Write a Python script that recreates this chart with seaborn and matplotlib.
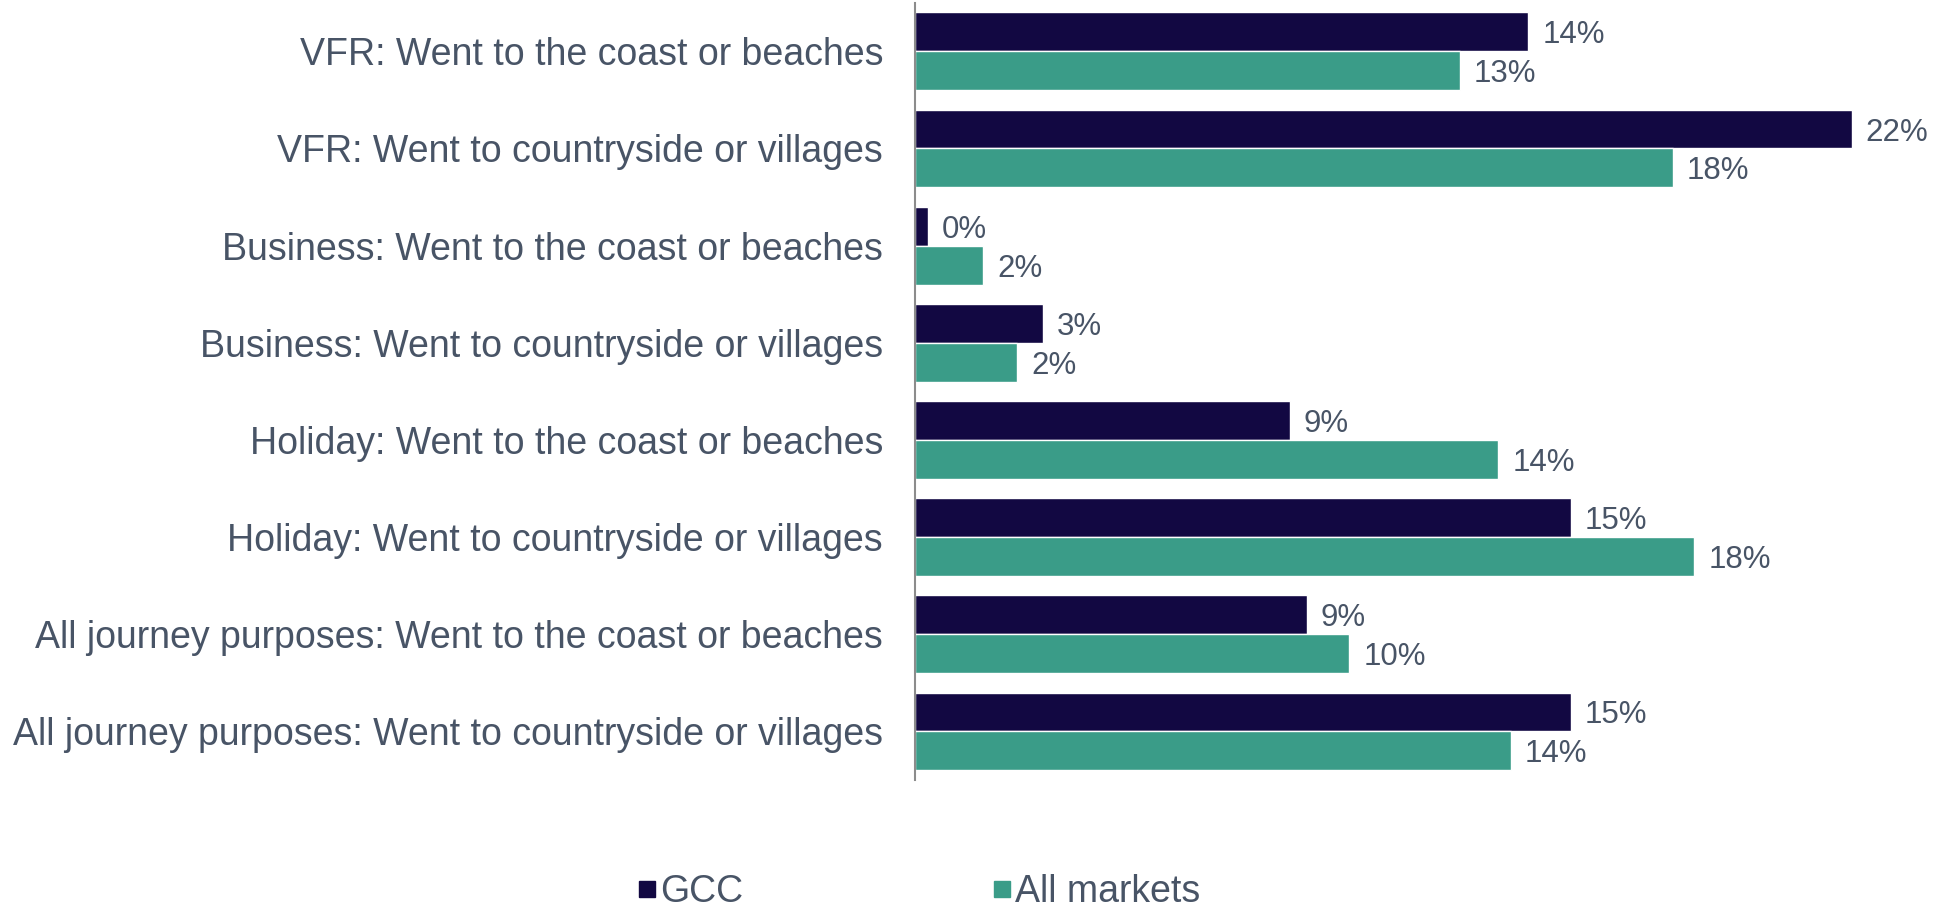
import matplotlib
matplotlib.use("Agg")
import matplotlib.pyplot as plt
import seaborn as sns
import pandas as pd

categories = [
    "VFR: Went to the coast or beaches",
    "VFR: Went to countryside or villages",
    "Business: Went to the coast or beaches",
    "Business: Went to countryside or villages",
    "Holiday: Went to the coast or beaches",
    "Holiday: Went to countryside or villages",
    "All journey purposes: Went to the coast or beaches",
    "All journey purposes: Went to countryside or villages",
]
series_names = ["GCC", "All markets"]
gcc_values = [14.4, 22.0, 0.3, 3.0, 8.8, 15.4, 9.2, 15.4]
all_markets_values = [12.8, 17.8, 1.6, 2.4, 13.7, 18.3, 10.2, 14.0]

colors = {"GCC": "#120842", "All markets": "#3A9C88"}
text_color = "#485466"

df = pd.DataFrame({
    "category": categories * 2,
    "value": gcc_values + all_markets_values,
    "series": [series_names[0]] * len(categories) + [series_names[1]] * len(categories),
})

sns.set_theme(style="white")
plt.rcParams["font.family"] = ["Liberation Sans", "DejaVu Sans"]

fig = plt.figure(figsize=(19.41, 9.14), dpi=100)
ax = fig.add_axes([0.4714, 0.1466, 0.5266, 0.8504])

sns.barplot(data=df, y="category", x="value", hue="series", orient="h",
            palette=colors, width=0.8, saturation=1, ax=ax, legend=False,
            order=categories, hue_order=series_names)

for container, vals in zip(ax.containers, [gcc_values, all_markets_values]):
    texts = ax.bar_label(container, labels=[f"{v:.0f}%" for v in vals], padding=10,
                         fontsize=22.5, color=text_color)
    for t in texts:
        t.xyann = (10, -2.5)

ax.set_xlim(0, 24)
ax.set_ylim(7.5, -0.5)
ax.set_xlabel("")
ax.set_ylabel("")
ax.set_xticks([])
ax.tick_params(axis="y", length=0, pad=23, labelsize=27, labelcolor=text_color)
for side in ["top", "right", "bottom"]:
    ax.spines[side].set_visible(False)
ax.spines["left"].set_color("#8C8C8C")
ax.spines["left"].set_linewidth(1.5)

handles = [plt.Line2D([], [], marker="s", linestyle="", markersize=11.5,
                      markerfacecolor=colors[s], markeredgecolor=colors[s])
           for s in series_names]
fig.legend(handles, series_names, loc="center left", bbox_to_anchor=(0.3277, 0.024),
           ncol=2, frameon=False, fontsize=27, labelcolor=text_color,
           borderpad=0, borderaxespad=0, handletextpad=0.05,
           columnspacing=6.6, handlelength=0.6)

fig.savefig("out.png", dpi=100)
